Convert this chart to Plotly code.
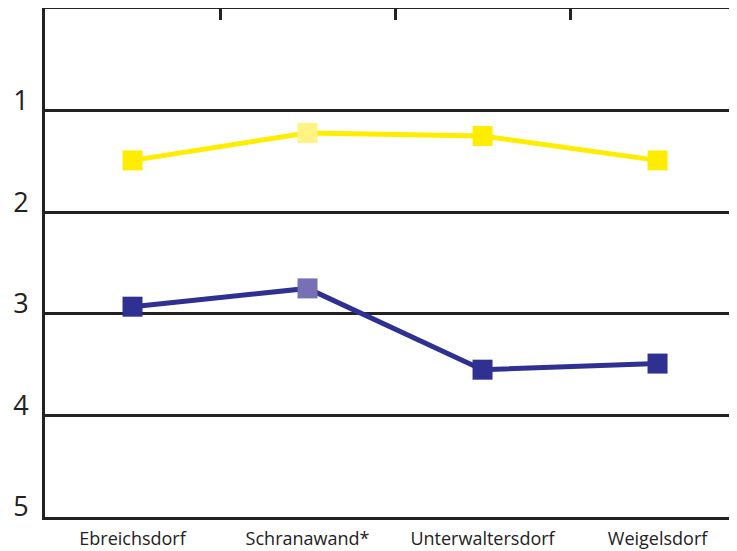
import plotly.graph_objects as go

orte = ["Ebreichsdorf", "Schranawand*", "Unterwaltersdorf", "Weigelsdorf"]
werte_gelb = [1.49, 1.22, 1.25, 1.49]
werte_blau = [2.93, 2.75, 3.55, 3.49]
farben_gelb = ["#FFED00", "#FFF383", "#FFED00", "#FFED00"]
farben_blau = ["#2E3192", "#7670B5", "#2E3192", "#2E3192"]
y_ticks = [0, 1, 2, 3, 4, 5]
y_labels = ["", "1", "2", "3", "4", "5"]

x_pos = list(range(len(orte)))

fig = go.Figure()

# gelbe Reihe
fig.add_trace(go.Scatter(
    x=x_pos, y=werte_gelb, mode="lines+markers",
    line=dict(color="#FFED00", width=5),
    marker=dict(symbol="square", size=20, color=farben_gelb),
    showlegend=False, hoverinfo="y"
))

# blaue Reihe
fig.add_trace(go.Scatter(
    x=x_pos, y=werte_blau, mode="lines+markers",
    line=dict(color="#2E3192", width=5),
    marker=dict(symbol="square", size=20, color=farben_blau),
    showlegend=False, hoverinfo="y"
))

# Dummy trace for the top axis with boundary ticks
fig.add_trace(go.Scatter(
    x=[-0.5], y=[0], xaxis="x2", mode="markers",
    marker=dict(opacity=0), showlegend=False, hoverinfo="skip"
))

x_range = [-0.5, 3.454]

# the page body has an 8px margin, so the figure is sized a bit smaller
fig.update_layout(
    width=729, height=543,
    paper_bgcolor="white", plot_bgcolor="white",
    margin=dict(l=37, r=0, t=1, b=34),
    font=dict(family="Open Sans, Noto Sans, sans-serif", color="#222222"),
    xaxis=dict(
        range=x_range, tickvals=x_pos, ticktext=orte, automargin=False,
        showgrid=False, zeroline=False,
        showline=True, linecolor="#222222", linewidth=3,
        ticks="", ticklabelstandoff=3, tickfont=dict(size=18, color="#222222"),
    ),
    xaxis2=dict(
        overlaying="x", side="top", range=x_range, automargin=False,
        tickvals=[0.5, 1.5, 2.5], showticklabels=False,
        ticks="inside", ticklen=11, tickwidth=3, tickcolor="#222222",
        showline=True, linecolor="#222222", linewidth=3,
        showgrid=False, zeroline=False,
    ),
    yaxis=dict(
        range=[5, 0], tickvals=y_ticks, ticktext=y_labels, automargin=False,
        showgrid=True, gridcolor="#222222", gridwidth=2.5,
        zeroline=False, showline=True, linecolor="#222222", linewidth=3,
        ticks="", ticklabelstandoff=8, ticklabelshift=10,
        tickfont=dict(size=27, color="#222222"),
    ),
)

fig.write_html("out.html")
